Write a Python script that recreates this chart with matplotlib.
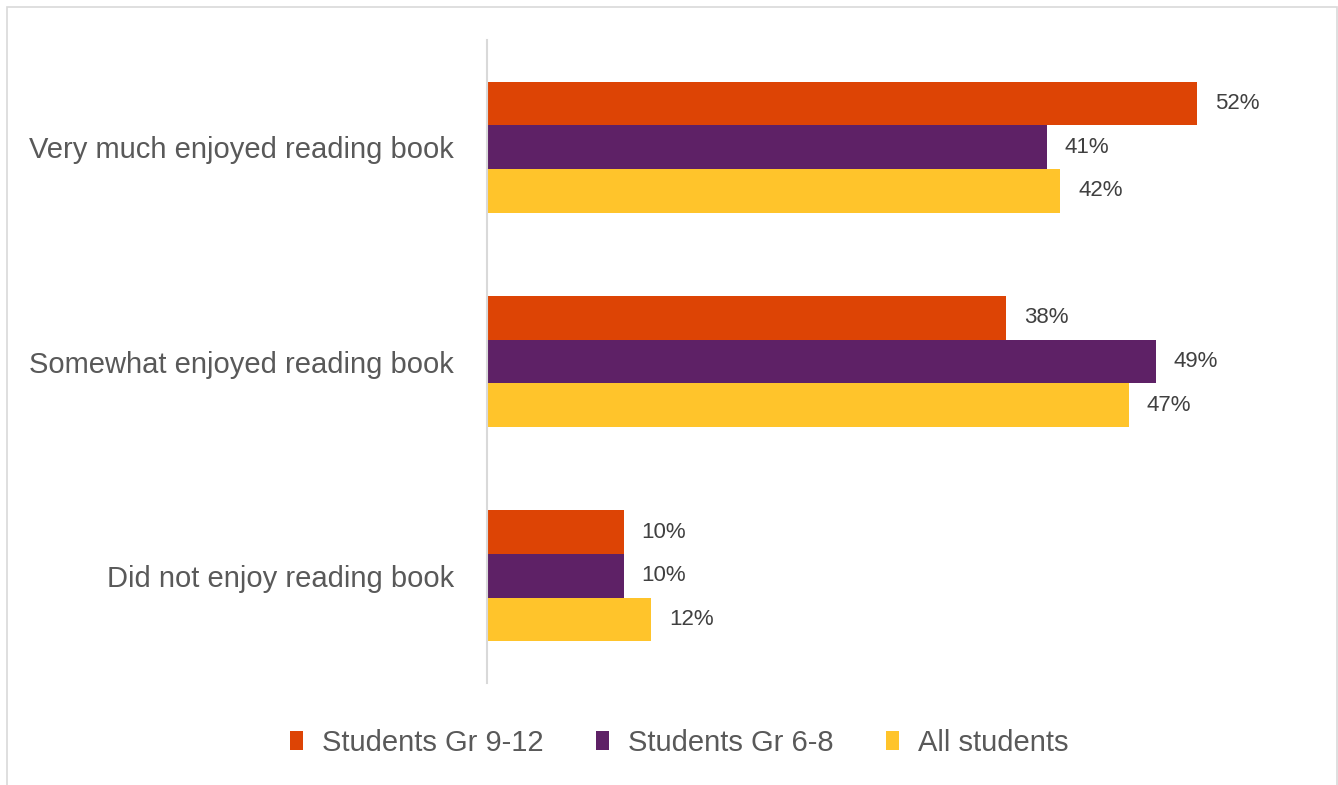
import numpy as np
import matplotlib as mpl
from matplotlib import pyplot as plt
from matplotlib.patches import Rectangle

categories = ["Very much enjoyed reading book",
              "Somewhat enjoyed reading book",
              "Did not enjoy reading book"]
series = ["Students Gr 9-12", "Students Gr 6-8", "All students"]
gr9_12 = [52, 38, 10]
gr6_8 = [41, 49, 10]
all_students = [42, 47, 12]
colors = ["#DD4405", "#5E2166", "#FFC42B"]

plt.rcParams["font.family"] = ["Liberation Sans", "DejaVu Sans"]

W, H = 1338, 785
fig = plt.figure(figsize=(W/100, H/100), dpi=100)
ax = fig.add_axes([487/W, 1-683/H, 819/W, 643/H])

# outer frame like the excel chart area
fig.patches.append(Rectangle((7/W, -0.02), 1330/W, 1-7/H+0.02, transform=fig.transFigure,
                             fill=False, edgecolor="#D9D9D9", linewidth=1.2))

y = np.arange(len(categories))
h = 0.204
for i, (vals, name) in enumerate(zip([gr9_12, gr6_8, all_students], series)):
    pos = y + (i-1)*h
    ax.barh(pos, vals, height=h, color=colors[i], label=name)
    for p, v in zip(pos, vals):
        ax.annotate(f"{v}%", (v, p), xytext=(13, 0), textcoords="offset points",
                    va="center", ha="left", fontsize=16, color="#404040")

ax.set_xlim(0, 60)
ax.set_ylim(len(categories)-0.5, -0.5)
ax.set_yticks(y)
ax.set_yticklabels(categories, fontsize=21, color="#595959")
ax.tick_params(axis="y", length=0, pad=24)
ax.tick_params(axis="x", bottom=False, labelbottom=False)
for s in ["top", "right", "bottom"]:
    ax.spines[s].set_visible(False)
ax.spines["left"].set_color("#D9D9D9")
ax.spines["left"].set_linewidth(1.5)

leg = fig.legend(loc="center", bbox_to_anchor=(0.5075, 1-743/H), ncol=3, frameon=False,
                 fontsize=21, handlelength=0.45, handleheight=0.62, handletextpad=0.65,
                 columnspacing=1.8, labelcolor="#595959")

fig.savefig("out.png", dpi=100)
